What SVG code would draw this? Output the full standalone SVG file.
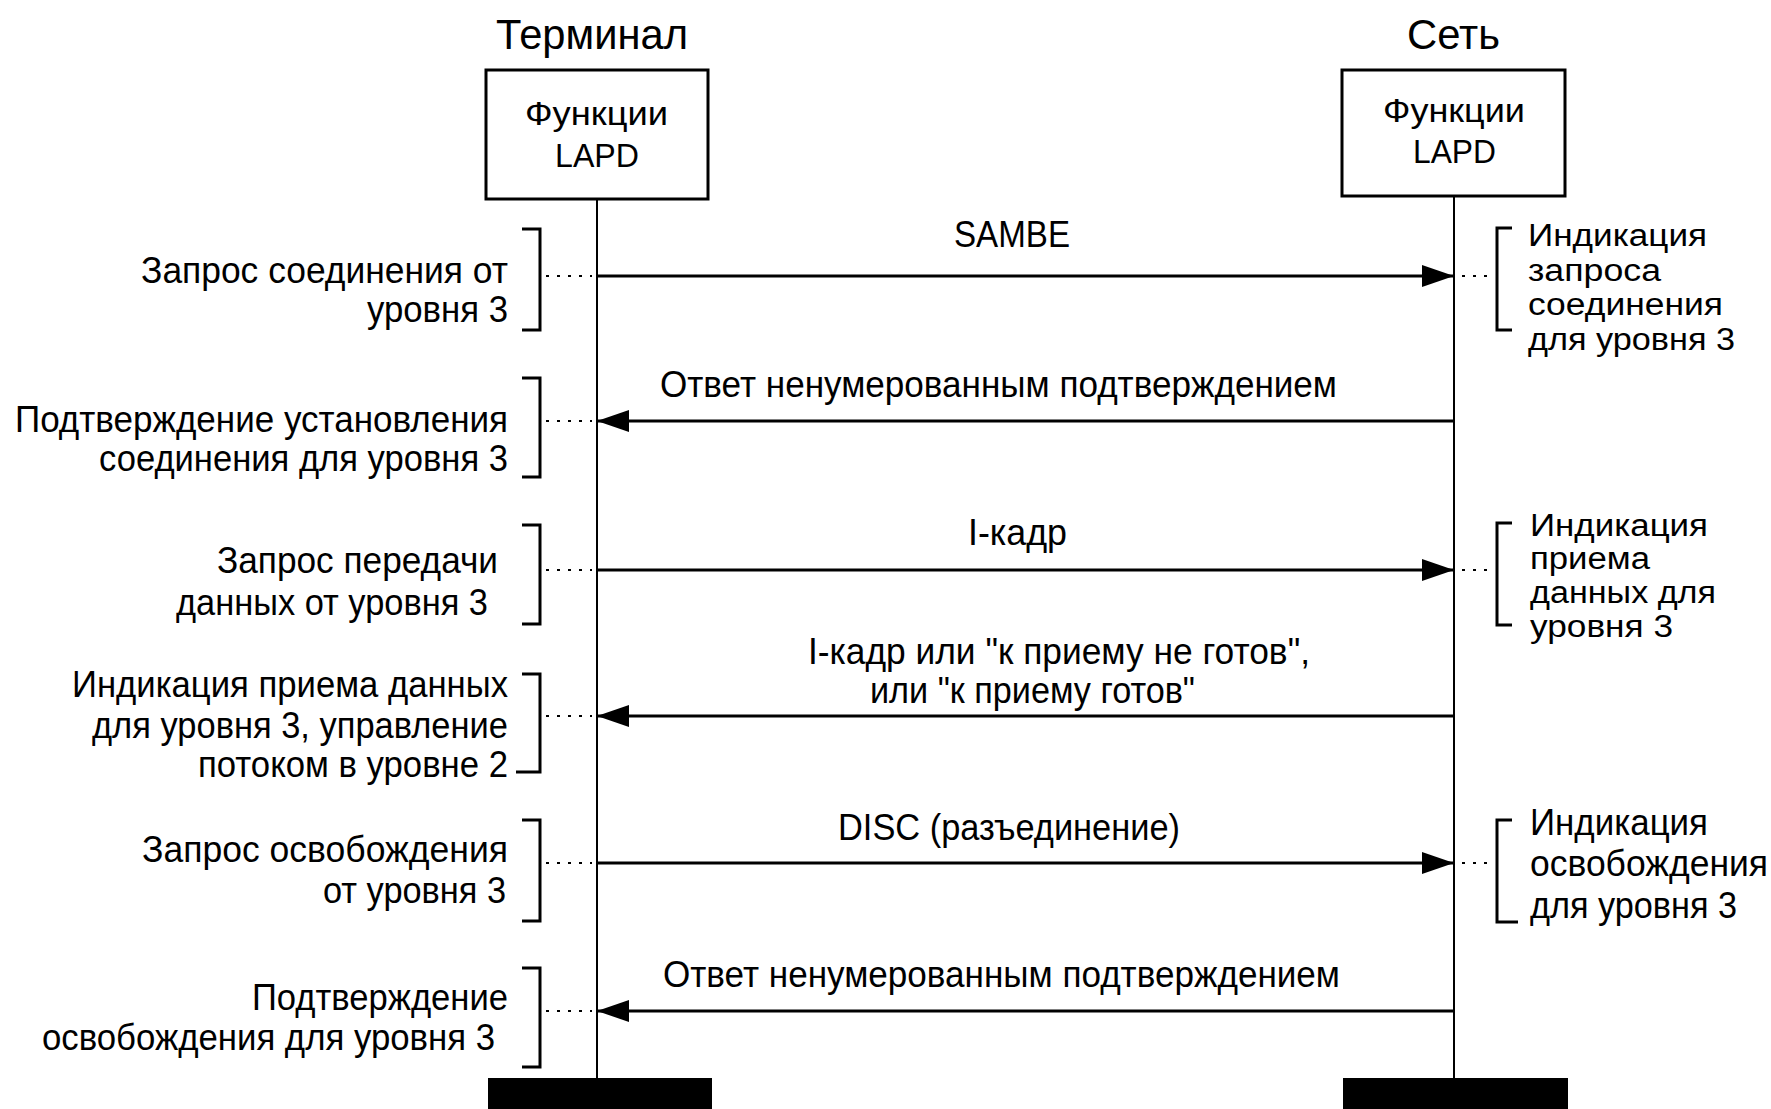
<svg xmlns="http://www.w3.org/2000/svg" width="1771" height="1109" viewBox="0 0 1771 1109">
  <style>
    text { font-family: "Liberation Sans", Arial, sans-serif; font-size: 36px; fill: #000; }
    .title { font-size: 42px; }
    .boxtxt { font-size: 34px; }
    .tight { font-size: 31px; }
    .box { fill: #fff; stroke: #000; stroke-width: 3; }
    .life { stroke: #000; stroke-width: 2; }
    .bar { fill: #000; }
    .msg { stroke: #000; stroke-width: 3; fill: none; marker-end: url(#head); }
    .dots { stroke: #000; stroke-width: 2; stroke-dasharray: 3 8; }
    .brk { fill: none; stroke: #000; stroke-width: 3; }
  </style>
  <defs>
    <marker id="head" markerUnits="userSpaceOnUse" markerWidth="32" markerHeight="22" refX="31" refY="11" orient="auto">
      <path d="M0,0 L32,11 L0,22 z" fill="#000"/>
    </marker>
  </defs>

  <rect width="1771" height="1109" fill="#fff"/>

  <!-- Terminal side -->
  <g id="terminal">
    <text class="title" x="496" y="49" textLength="192" lengthAdjust="spacingAndGlyphs">Терминал</text>
    <rect class="box" x="486" y="70" width="222" height="129"/>
    <text class="boxtxt" x="525" y="125" textLength="143" lengthAdjust="spacingAndGlyphs">Функции</text>
    <text class="boxtxt" x="555" y="167" textLength="84" lengthAdjust="spacingAndGlyphs">LAPD</text>
    <line class="life" x1="597" y1="199" x2="597" y2="1079"/>
    <rect class="bar" x="488" y="1078" width="224" height="31"/>
  </g>

  <!-- Network side -->
  <g id="network">
    <text class="title" x="1407" y="49" textLength="93" lengthAdjust="spacingAndGlyphs">Сеть</text>
    <rect class="box" x="1342" y="70" width="223" height="126"/>
    <text class="boxtxt" x="1383" y="122" textLength="142" lengthAdjust="spacingAndGlyphs">Функции</text>
    <text class="boxtxt" x="1413" y="163" textLength="83" lengthAdjust="spacingAndGlyphs">LAPD</text>
    <line class="life" x1="1454" y1="196" x2="1454" y2="1079"/>
    <rect class="bar" x="1343" y="1078" width="225" height="31"/>
  </g>

  <!-- Layer 3 primitives on the terminal side -->
  <g id="terminal-notes">
    <g id="t-conn-req">
      <text x="141" y="283" textLength="367" lengthAdjust="spacingAndGlyphs">Запрос соединения от</text>
      <text x="367" y="322" textLength="141" lengthAdjust="spacingAndGlyphs">уровня 3</text>
      <path class="brk" d="M522,229 H540 V330 H522"/>
    </g>
    <g id="t-conn-conf">
      <text x="15" y="432" textLength="493" lengthAdjust="spacingAndGlyphs">Подтверждение установления</text>
      <text x="99" y="471" textLength="409" lengthAdjust="spacingAndGlyphs">соединения для уровня 3</text>
      <path class="brk" d="M522,378 H540 V477 H522"/>
    </g>
    <g id="t-data-req">
      <text x="217" y="573" textLength="281" lengthAdjust="spacingAndGlyphs">Запрос передачи</text>
      <text x="176" y="615" textLength="312" lengthAdjust="spacingAndGlyphs">данных от уровня 3</text>
      <path class="brk" d="M522,525 H540 V624 H522"/>
    </g>
    <g id="t-data-ind">
      <text x="72" y="697" textLength="436" lengthAdjust="spacingAndGlyphs">Индикация приема данных</text>
      <text x="92" y="738" textLength="416" lengthAdjust="spacingAndGlyphs">для уровня 3, управление</text>
      <text x="198" y="777" textLength="310" lengthAdjust="spacingAndGlyphs">потоком в уровне 2</text>
      <path class="brk" d="M522,674 H540 V772 H516"/>
    </g>
    <g id="t-rel-req">
      <text x="142" y="862" textLength="366" lengthAdjust="spacingAndGlyphs">Запрос освобождения</text>
      <text x="323" y="903" textLength="183" lengthAdjust="spacingAndGlyphs">от уровня 3</text>
      <path class="brk" d="M522,820 H540 V921 H522"/>
    </g>
    <g id="t-rel-conf">
      <text x="252" y="1010" textLength="256" lengthAdjust="spacingAndGlyphs">Подтверждение</text>
      <text x="42" y="1050" textLength="453" lengthAdjust="spacingAndGlyphs">освобождения для уровня 3</text>
      <path class="brk" d="M522,968 H540 V1067 H522"/>
    </g>
  </g>

  <!-- Layer 3 primitives on the network side -->
  <g id="network-notes">
    <g id="n-conn-ind">
      <path class="brk" d="M1512,228 H1497 V330 H1512"/>
      <text class="tight" x="1528" y="246" textLength="179" lengthAdjust="spacingAndGlyphs">Индикация</text>
      <text class="tight" x="1528" y="281" textLength="133" lengthAdjust="spacingAndGlyphs">запроса</text>
      <text class="tight" x="1528" y="315" textLength="195" lengthAdjust="spacingAndGlyphs">соединения</text>
      <text class="tight" x="1528" y="350" textLength="207" lengthAdjust="spacingAndGlyphs">для уровня 3</text>
    </g>
    <g id="n-data-ind">
      <path class="brk" d="M1512,523 H1497 V625 H1512"/>
      <text class="tight" x="1530" y="536" textLength="178" lengthAdjust="spacingAndGlyphs">Индикация</text>
      <text class="tight" x="1530" y="569" textLength="120" lengthAdjust="spacingAndGlyphs">приема</text>
      <text class="tight" x="1530" y="603" textLength="186" lengthAdjust="spacingAndGlyphs">данных для</text>
      <text class="tight" x="1530" y="637" textLength="143" lengthAdjust="spacingAndGlyphs">уровня 3</text>
    </g>
    <g id="n-rel-ind">
      <path class="brk" d="M1512,820 H1497 V922 H1518"/>
      <text x="1530" y="835" textLength="178" lengthAdjust="spacingAndGlyphs">Индикация</text>
      <text x="1530" y="876" textLength="238" lengthAdjust="spacingAndGlyphs">освобождения</text>
      <text x="1530" y="918" textLength="207" lengthAdjust="spacingAndGlyphs">для уровня 3</text>
    </g>
  </g>

  <!-- Frames exchanged between the two LAPD entities -->
  <g id="connectors">
    <line class="dots" x1="546" y1="276" x2="592" y2="276"/>
    <line class="msg" x1="597" y1="276" x2="1453" y2="276"/>
    <line class="dots" x1="1462" y1="276" x2="1492" y2="276"/>

    <line class="msg" x1="1454" y1="421" x2="598" y2="421"/>
    <line class="dots" x1="546" y1="421" x2="592" y2="421"/>

    <line class="dots" x1="546" y1="570" x2="592" y2="570"/>
    <line class="msg" x1="597" y1="570" x2="1453" y2="570"/>
    <line class="dots" x1="1462" y1="570" x2="1492" y2="570"/>

    <line class="msg" x1="1454" y1="716" x2="598" y2="716"/>
    <line class="dots" x1="546" y1="716" x2="592" y2="716"/>

    <line class="dots" x1="546" y1="863" x2="592" y2="863"/>
    <line class="msg" x1="597" y1="863" x2="1453" y2="863"/>
    <line class="dots" x1="1462" y1="863" x2="1492" y2="863"/>

    <line class="msg" x1="1454" y1="1011" x2="598" y2="1011"/>
    <line class="dots" x1="546" y1="1011" x2="592" y2="1011"/>
  </g>

  <!-- Frame names -->
  <g id="frame-labels">
    <text x="954" y="247" textLength="116" lengthAdjust="spacingAndGlyphs">SAMBE</text>
    <text x="660" y="397" textLength="677" lengthAdjust="spacingAndGlyphs">Ответ ненумерованным подтверждением</text>
    <text x="968" y="545" textLength="99" lengthAdjust="spacingAndGlyphs">I-кадр</text>
    <text x="808" y="664" textLength="502" lengthAdjust="spacingAndGlyphs">I-кадр или "к приему не готов",</text>
    <text x="870" y="703" textLength="325" lengthAdjust="spacingAndGlyphs">или "к приему готов"</text>
    <text x="838" y="840" textLength="342" lengthAdjust="spacingAndGlyphs">DISC (разъединение)</text>
    <text x="663" y="987" textLength="677" lengthAdjust="spacingAndGlyphs">Ответ ненумерованным подтверждением</text>
  </g>
</svg>
